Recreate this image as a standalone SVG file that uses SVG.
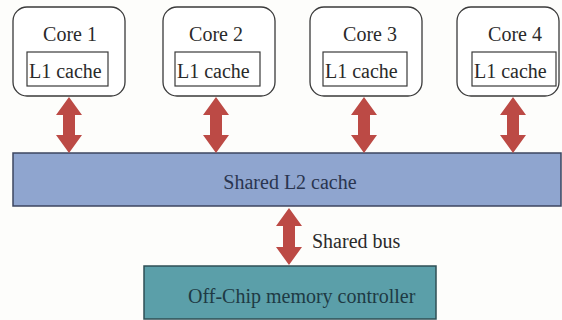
<svg xmlns="http://www.w3.org/2000/svg" width="562" height="320" viewBox="0 0 562 320">
  <style>
    .core { fill: #ffffff; stroke: #3a3a3a; stroke-width: 1.3; }
    .l1 { fill: #ffffff; stroke: #3a3a3a; stroke-width: 1.2; }
    .lbl { font-family: "Liberation Serif", "Times New Roman", serif; font-size: 20px; fill: #2a2a2a; }
    .mid { text-anchor: middle; }
    .arrow { fill: #bc4a45; }
  </style>
  <rect width="562" height="320" fill="#fdfdfb"/>

  <g id="core1">
    <rect class="core" x="13" y="7" width="112" height="89" rx="14"/>
    <text class="lbl mid" x="70" y="41">Core 1</text>
    <rect class="l1" x="27" y="52" width="81" height="34"/>
    <text class="lbl" x="29" y="78">L1 cache</text>
  </g>
  <g id="core2">
    <rect class="core" x="163" y="7" width="112" height="89" rx="14"/>
    <text class="lbl mid" x="216" y="41">Core 2</text>
    <rect class="l1" x="175" y="52" width="85" height="34"/>
    <text class="lbl" x="177" y="78">L1 cache</text>
  </g>
  <g id="core3">
    <rect class="core" x="310" y="7" width="112" height="89" rx="14"/>
    <text class="lbl mid" x="370" y="41">Core 3</text>
    <rect class="l1" x="323" y="52" width="84" height="34"/>
    <text class="lbl" x="325" y="78">L1 cache</text>
  </g>
  <g id="core4">
    <rect class="core" x="457" y="7" width="102" height="89" rx="14"/>
    <text class="lbl mid" x="515" y="41">Core 4</text>
    <rect class="l1" x="472" y="52" width="84" height="34"/>
    <text class="lbl" x="474" y="78">L1 cache</text>
  </g>

  <g id="l2cache">
    <rect x="13" y="153" width="548" height="53" fill="#8fa5cf" stroke="#3c4560" stroke-width="1.5"/>
    <text class="lbl mid" x="290" y="189" fill="#2a3550" style="fill:#2a3550">Shared L2 cache</text>
  </g>

  <g id="memctrl">
    <rect x="144" y="266" width="292" height="53" fill="#5b9fa9" stroke="#2f4f55" stroke-width="1.5"/>
    <text class="lbl" x="188" y="303" style="fill:#1e3a44">Off-Chip memory controller</text>
  </g>

  <g id="connectors">
    <path class="arrow" d="M69,97 L82,115 L75,115 L75,135 L82,135 L69,153 L56,135 L63,135 L63,115 L56,115 Z"/>
    <path class="arrow" d="M216,97 L229,115 L222,115 L222,135 L229,135 L216,153 L203,135 L210,135 L210,115 L203,115 Z"/>
    <path class="arrow" d="M364,97 L377,115 L370,115 L370,135 L377,135 L364,153 L351,135 L358,135 L358,115 L351,115 Z"/>
    <path class="arrow" d="M513,97 L526,115 L519,115 L519,135 L526,135 L513,153 L500,135 L507,135 L507,115 L500,115 Z"/>
    <path class="arrow" d="M289,208 L302,226 L295,226 L295,247 L302,247 L289,265 L276,247 L283,247 L283,226 L276,226 Z"/>
    <text class="lbl" x="312" y="248">Shared bus</text>
  </g>
</svg>
